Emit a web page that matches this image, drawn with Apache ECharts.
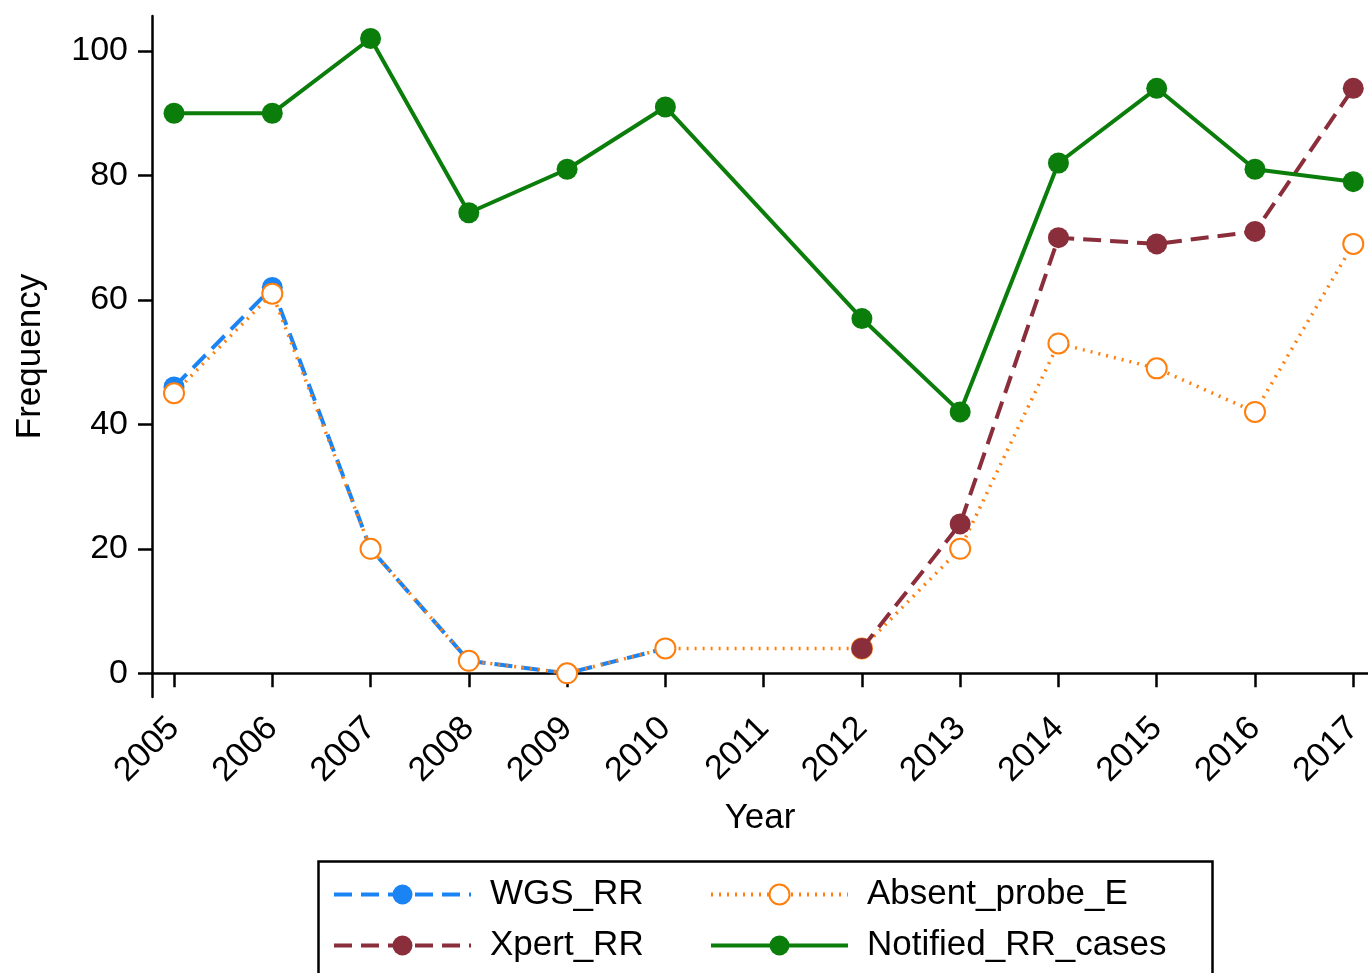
<!DOCTYPE html>
<html>
<head>
<meta charset="utf-8">
<title>RR frequency by year</title>
<script src="https://cdn.jsdelivr.net/npm/echarts@6/dist/echarts.min.js"></script>
<style>
  html, body { margin: 0; padding: 0; background: #fff; }
  #chart { width: 1368px; height: 973px; }
</style>
</head>
<body>
<div id="chart"></div>
<script>
// Years on the x axis (tick labels)
const years = [2005, 2006, 2007, 2008, 2009, 2010, 2011, 2012, 2013, 2014, 2015, 2016, 2017];
const yTicks = [0, 20, 40, 60, 80, 100];

// Yearly counts; null = no value recorded for that year
const wgsRR        = [46, 62, 20, 2, 0, 4, null, null, null, null, null, null, null];
const absentProbeE = [45, 61, 20, 2, 0, 4, null, 4, 20, 53, 49, 42, 69];
const xpertRR      = [null, null, null, null, null, null, null, 4, 24, 70, 69, 71, 94];
const notifiedRR   = [90, 90, 102, 74, 81, 91, null, 57, 42, 82, 94, 81, 79];

const toPairs = vals => years.map((y, i) => [y, vals[i]]).filter(p => p[1] !== null);

const FONT = '"Liberation Sans", Arial, Helvetica, sans-serif';
const chart = echarts.init(document.getElementById('chart'), null, { renderer: 'canvas' });

const legendText = { fontFamily: FONT, fontSize: 35, color: '#000', padding: [0, 0, 0, 14] };
const legendCommon = {
  orient: 'vertical',
  top: 872,
  itemWidth: 137,
  itemHeight: 25,
  itemGap: 16,
  lineStyle: { width: 4 },
  itemStyle: { borderWidth: 3 },
  textStyle: legendText
};

chart.setOption({
  animation: false,
  backgroundColor: '#fff',
  textStyle: { fontFamily: FONT },
  grid: { left: 152, right: 0, top: 16, bottom: 276, containLabel: false },
  xAxis: {
    type: 'value',
    min: 2004.776,
    max: 2017.15,
    name: 'Year',
    nameLocation: 'middle',
    nameGap: 104,
    nameTextStyle: { fontFamily: FONT, fontSize: 35, color: '#000' },
    axisLine: { show: true, lineStyle: { color: '#000', width: 2.5 } },
    axisTick: { show: true, customValues: years, length: 14, lineStyle: { color: '#000', width: 2.5 } },
    axisLabel: {
      customValues: years,
      rotate: 45,
      margin: 26,
      fontFamily: FONT,
      fontSize: 34,
      color: '#000',
      formatter: v => String(v)
    },
    splitLine: { show: false }
  },
  yAxis: {
    type: 'value',
    min: -3.81,
    max: 105.62,
    name: 'Frequency',
    nameLocation: 'middle',
    nameGap: 104,
    nameTextStyle: { fontFamily: FONT, fontSize: 35, color: '#000' },
    axisLine: { show: true, lineStyle: { color: '#000', width: 2.5 } },
    axisTick: { show: true, customValues: yTicks, length: 14, lineStyle: { color: '#000', width: 2.5 } },
    axisLabel: {
      customValues: yTicks,
      margin: 24,
      fontFamily: FONT,
      fontSize: 34,
      color: '#000'
    },
    splitLine: { show: false }
  },
  legend: [
    Object.assign({ data: ['WGS_RR', 'Xpert_RR'], left: 327 }, legendCommon),
    Object.assign({ data: ['Absent_probe_E', 'Notified_RR_cases'], left: 704 }, legendCommon)
  ],
  graphic: [
    {
      type: 'rect',
      left: 316,
      top: 859,
      shape: { width: 894, height: 140 },
      style: { fill: 'none', stroke: '#000', lineWidth: 2.5 },
      silent: true
    }
  ],
  series: [
    {
      name: 'WGS_RR',
      type: 'line',
      data: toPairs(wgsRR),
      symbol: 'circle',
      symbolSize: 21,
      itemStyle: { color: '#1a84f5' },
      lineStyle: { color: '#1a84f5', width: 4, type: [18, 9] },
      z: 2
    },
    {
      name: 'Absent_probe_E',
      type: 'line',
      data: toPairs(absentProbeE),
      symbol: 'emptyCircle',
      symbolSize: 20,
      itemStyle: { color: '#ff7f0e', borderColor: '#ff7f0e', borderWidth: 3.5 },
      lineStyle: { color: '#ff7f0e', width: 3.5, type: [2, 6] },
      z: 3
    },
    {
      name: 'Xpert_RR',
      type: 'line',
      data: toPairs(xpertRR),
      symbol: 'circle',
      symbolSize: 21,
      itemStyle: { color: '#8a2e3b' },
      lineStyle: { color: '#8a2e3b', width: 4, type: [18, 9] },
      z: 4
    },
    {
      name: 'Notified_RR_cases',
      type: 'line',
      data: toPairs(notifiedRR),
      symbol: 'circle',
      symbolSize: 21,
      itemStyle: { color: '#0a7d0a' },
      lineStyle: { color: '#0a7d0a', width: 4, type: 'solid' },
      z: 5
    }
  ]
});
</script>
</body>
</html>
